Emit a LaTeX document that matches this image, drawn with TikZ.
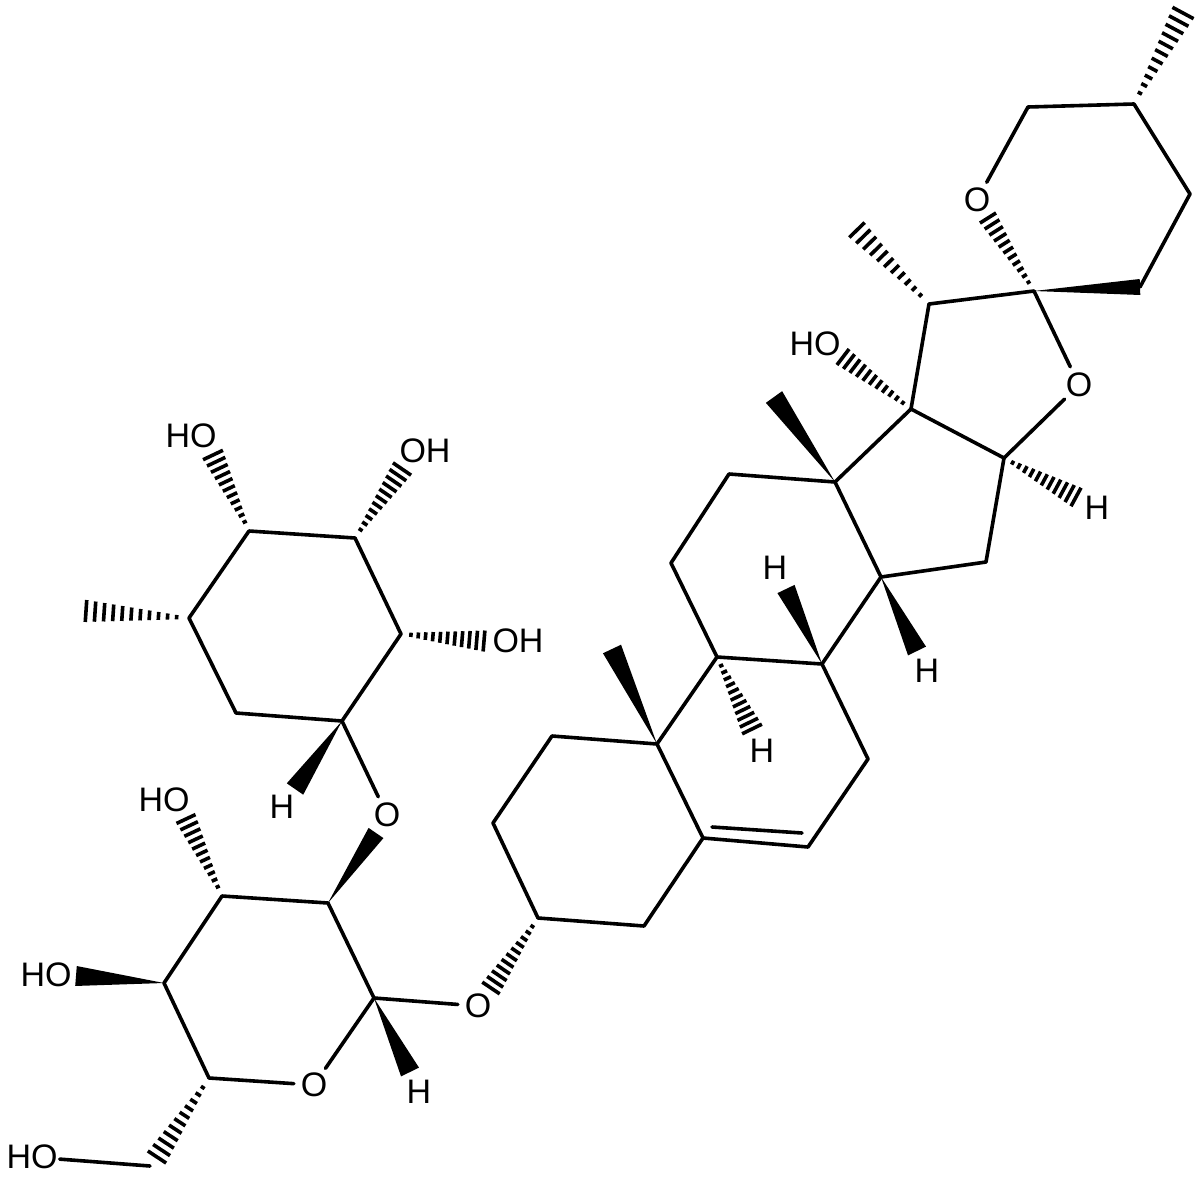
\documentclass[tikz,border=0pt]{standalone}
\usepackage{fontspec}
\setmainfont{Liberation Sans}
\usetikzlibrary{calc}
\tikzstyle{line} = [draw, line width=3.6pt, line cap=round, line join=round]
\tikzstyle{hash} = [draw, line width=3.6pt]
\tikzstyle{atom} = [inner sep=2pt, font=\fontsize{34}{36}\selectfont]
\tikzstyle{oxy} = [atom, circle, inner sep=0pt, minimum size=40pt]
\newcommand{\wedgebond}[3]{\fill ($(#2)!#3!90:(#1)$) -- ($(#2)!#3!-90:(#1)$) -- (#1) -- cycle;}
\newcommand{\hashbond}[3]{\foreach \tpos in {0.12,0.208,...,1.005}
  \path [hash] ($(#1)!\tpos!(#2)!{\tpos*#3+1pt}!90:(#1)$) -- ($(#1)!\tpos!(#2)!{\tpos*#3+1pt}!-90:(#1)$);}
\begin{document}
\begin{tikzpicture}[x=1pt, y=-1pt]
  \useasboundingbox (0,0) rectangle (1200,1178);

  % upper sugar ring
  \coordinate (a1) at (249,531);
  \coordinate (a2) at (355,538);
  \coordinate (a3) at (401,634);
  \coordinate (a4) at (342,721);
  \coordinate (a5) at (236,713);
  \coordinate (a6) at (189,618);
  \coordinate (ma6) at (86,611);
  \coordinate (ea1) at (213,455);
  \coordinate (ea2) at (402,469);
  \coordinate (ea3) at (484,641);
  \coordinate (ea4) at (295,789);
  \node [atom] (hoa1) at (191,436) {HO};
  \node [atom] (hoa2) at (425,451) {OH};
  \node [atom] (hoa3) at (518,641) {OH};
  \node [atom] (ha4) at (282,807) {H};
  \node [oxy] (oa) at (387,815) {O};

  % lower sugar ring
  \coordinate (b1) at (328,903);
  \coordinate (b2) at (222,896);
  \coordinate (b3) at (164,983);
  \coordinate (b4) at (209,1078);
  \coordinate (b5) at (374,998);
  \coordinate (b6) at (150,1166);
  \coordinate (eb1) at (376,833);
  \coordinate (eb2) at (186,819);
  \coordinate (eb3) at (76,976);
  \coordinate (eb4) at (157,1157);
  \coordinate (eb5) at (410,1072);
  \node [oxy] (oc) at (314,1085) {O};
  \node [oxy] (ob) at (478,1006) {O};
  \node [atom] (hob2) at (164,800) {HO};
  \node [atom] (hob3) at (46,975) {HO};
  \node [atom] (hob6) at (32,1157) {HO};
  \node [atom] (hb5) at (419,1092) {H};

  % steroid rings
  \coordinate (c1) at (552,736);
  \coordinate (c2) at (493,823);
  \coordinate (c3) at (538,918);
  \coordinate (c4) at (644,926);
  \coordinate (c5) at (703,838);
  \coordinate (c6) at (808,847);
  \coordinate (c7) at (868,759);
  \coordinate (c8) at (822,664);
  \coordinate (c9) at (717,657);
  \coordinate (c10) at (657,744);
  \coordinate (c11) at (671,563);
  \coordinate (c12) at (729,474);
  \coordinate (c13) at (835,482);
  \coordinate (c14) at (881,577);
  \coordinate (c15) at (986,562);
  \coordinate (c16) at (1004,458);
  \coordinate (c17) at (911,409);
  \coordinate (c20) at (929,304);
  \coordinate (c22) at (1034,291);
  \coordinate (c30) at (1028,107);
  \coordinate (c31) at (1134,104);
  \coordinate (c32) at (1190,194);
  \coordinate (c33) at (1140,287);
  \coordinate (d5) at (712,827);
  \coordinate (d6) at (802,833);
  \coordinate (m10) at (612,649);
  \coordinate (m13) at (774,397);
  \coordinate (m20) at (857,230);
  \coordinate (m31) at (1183,13);
  \coordinate (ec3) at (491,988);
  \coordinate (ec8) at (786,589);
  \coordinate (ec9) at (752,729);
  \coordinate (ec14) at (917,651);
  \coordinate (ec16) at (1076,497);
  \coordinate (ec17) at (843,357);
  \coordinate (ec22) at (988,218);
  \node [oxy] (od) at (977,200) {O};
  \node [oxy] (oe) at (1079,385) {O};
  \node [atom] (hoc17) at (815,344) {HO};
  \node [atom] (hc8) at (775,568) {H};
  \node [atom] (hc9) at (762,751) {H};
  \node [atom] (hc14) at (927,671) {H};
  \node [atom] (hc16) at (1097,508) {H};

  \path [line] (a1) -- (a2) -- (a3) -- (a4) -- (a5) -- (a6) -- cycle;
  \path [line] (a4) -- (oa);
  \path [line] (b5) -- (b1) -- (b2) -- (b3) -- (b4) -- (oc);
  \path [line] (oc) -- (b5);
  \path [line] (b5) -- (ob);
  \path [line] (hob6) -- (b6);
  \path [line] (c1) -- (c2) -- (c3) -- (c4) -- (c5) -- (c10) -- cycle;
  \path [line] (c5) -- (c6) -- (c7) -- (c8) -- (c9) -- (c10);
  \path [line] (d5) -- (d6);
  \path [line] (c9) -- (c11) -- (c12) -- (c13) -- (c14) -- (c8);
  \path [line] (c14) -- (c15) -- (c16) -- (c17) -- (c13);
  \path [line] (c17) -- (c20) -- (c22) -- (oe);
  \path [line] (oe) -- (c16);
  \path [line] (od) -- (c30) -- (c31) -- (c32) -- (c33);

  \wedgebond{a4}{ea4}{10pt}
  \wedgebond{b1}{eb1}{9pt}
  \wedgebond{b3}{eb3}{10pt}
  \wedgebond{b5}{eb5}{10pt}
  \wedgebond{c10}{m10}{10pt}
  \wedgebond{c13}{m13}{10pt}
  \wedgebond{c8}{ec8}{9.5pt}
  \wedgebond{c14}{ec14}{10pt}
  \wedgebond{c22}{c33}{8pt}

  \hashbond{a1}{ea1}{10pt}
  \hashbond{a2}{ea2}{10pt}
  \hashbond{a3}{ea3}{9.5pt}
  \hashbond{a6}{ma6}{10pt}
  \hashbond{b2}{eb2}{9.5pt}
  \hashbond{b4}{eb4}{10pt}
  \hashbond{c3}{ec3}{9.5pt}
  \hashbond{c9}{ec9}{10pt}
  \hashbond{c16}{ec16}{9.5pt}
  \hashbond{c17}{ec17}{9pt}
  \hashbond{c20}{m20}{9.7pt}
  \hashbond{c22}{ec22}{8.5pt}
  \hashbond{c31}{m31}{11pt}
\end{tikzpicture}
\end{document}
